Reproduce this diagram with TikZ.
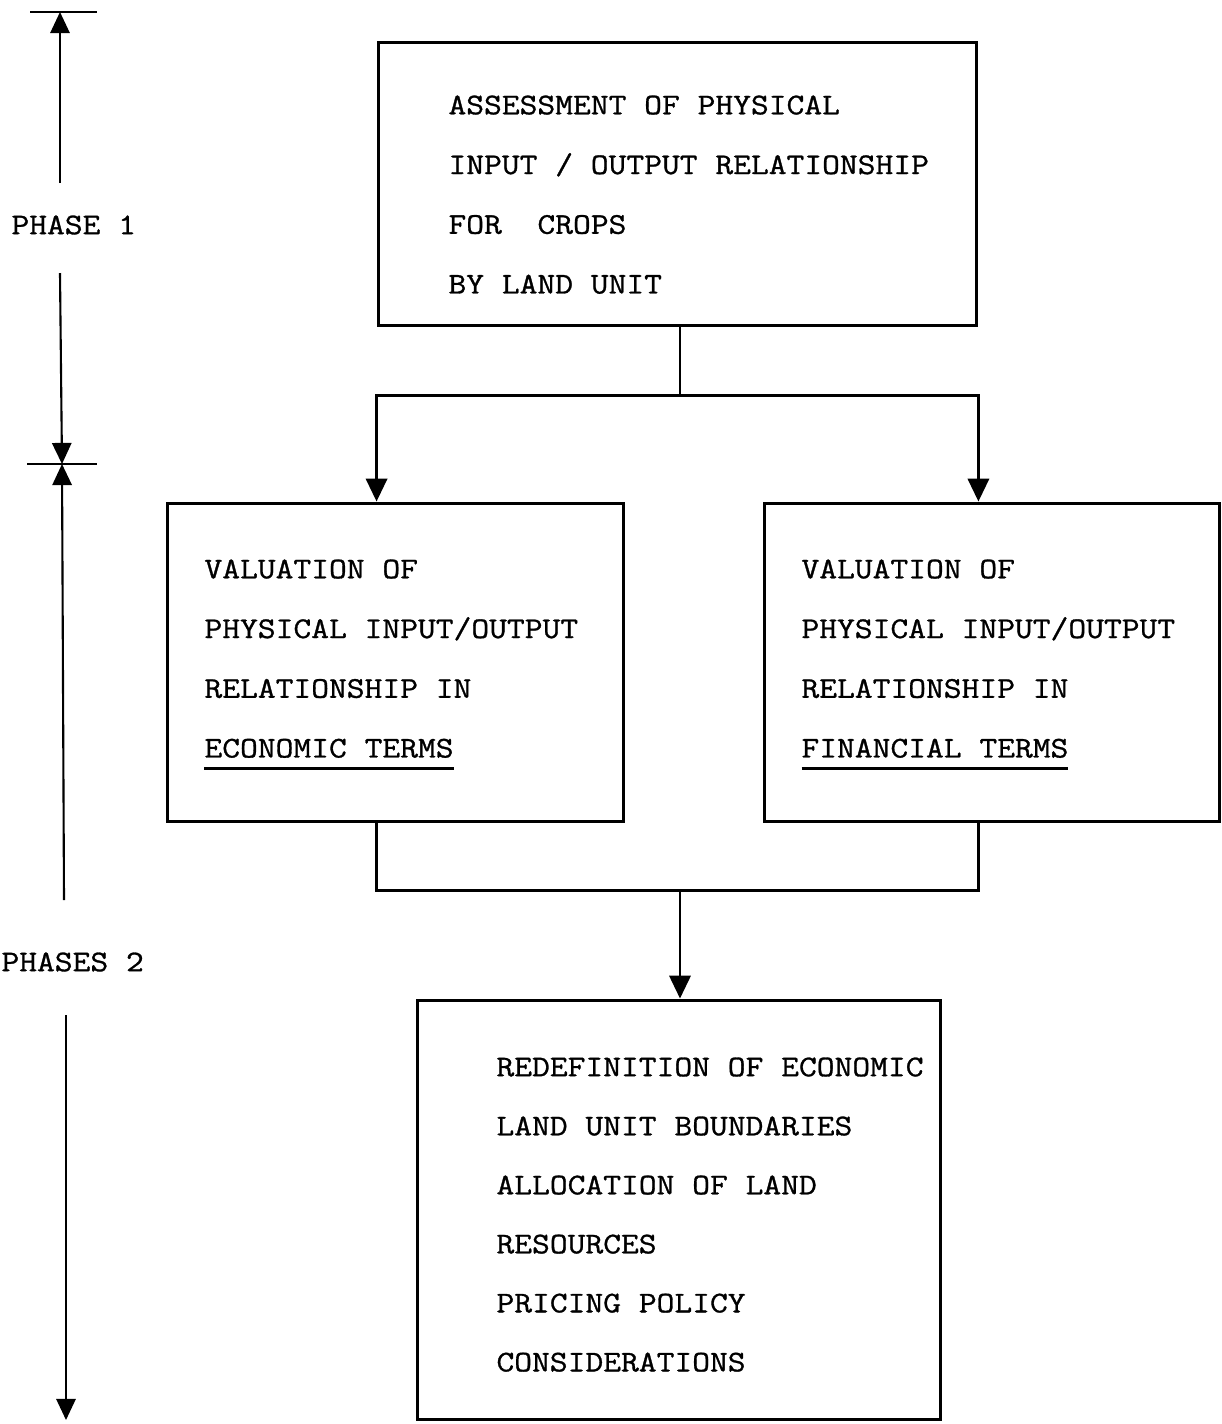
\documentclass[tikz,border=0pt]{standalone}
\usepackage{fontspec}
\newfontfamily\typefont{Latin Modern Mono}[FakeStretch=1.15, FakeBold=1]
\usetikzlibrary{arrows.meta}
\newcommand\lowline[1]{\setbox0\hbox{#1}\rlap{\copy0}\rule[-7pt]{\wd0}{1.5pt}}
\tikzset{
  box/.style={draw, line width=1.7pt, inner sep=0pt},
  boxtext/.style={anchor=north west, inner sep=0pt, align=left,
    font=\typefont\fontsize{17.1}{34}\selectfont},
  phasetext/.style={anchor=west, inner sep=0pt, font=\typefont\fontsize{17.1}{20}\selectfont},
  arr/.style={-{Triangle[width=12pt,length=13pt]}},
  phasearr/.style={line width=1.2pt, -{Triangle[width=11pt,length=12pt]}},
}
\begin{document}
\begin{tikzpicture}[x=0.02cm, y=-0.02cm, line width=1.7pt]
  \useasboundingbox (0,0) rectangle (1222,1424);

  % boxes
  \node[box, minimum width=11.98cm, minimum height=5.68cm] (assess) at (677.5,184) {};
  \node[box, minimum width=9.14cm, minimum height=6.38cm] (econ) at (395.5,662.5) {};
  \node[box, minimum width=9.12cm, minimum height=6.38cm] (fin) at (992,662.5) {};
  \node[box, minimum width=10.48cm, minimum height=8.4cm] (redef) at (679,1210) {};

  % texts
  \node[boxtext] (assesstxt) at (447,94)
    {ASSESSMENT OF PHYSICAL\\INPUT / OUTPUT RELATIONSHIP\\FOR\ \ CROPS\\BY LAND UNIT};
  \node[boxtext] (econtxt) at (203,558)
    {VALUATION OF\\PHYSICAL INPUT/OUTPUT\\RELATIONSHIP IN\\\lowline{ECONOMIC TERMS}};
  \node[boxtext] (fintxt) at (800,558)
    {VALUATION OF\\PHYSICAL INPUT/OUTPUT\\RELATIONSHIP IN\\\lowline{FINANCIAL TERMS}};
  \node[boxtext, font=\typefont\fontsize{17.1}{33.6}\selectfont] (redeftxt) at (495,1056)
    {REDEFINITION OF ECONOMIC\\LAND UNIT BOUNDARIES\\ALLOCATION OF LAND\\RESOURCES\\PRICING POLICY\\CONSIDERATIONS};

  % connectors
  \coordinate (fork) at (680,395);
  \coordinate (join) at (680,890);
  \draw (fork |- assess.south) -- (fork);
  \draw[arr] (fork) -| (assess.south west |- econ.north);
  \draw[arr] (fork) -| (assess.south east |- fin.north);
  \draw (assess.south west |- econ.south) |- (join) -| (assess.south east |- fin.south);
  \draw[arr] (join) -- (join |- redef.north);

  % phases
  \coordinate (ph1top) at (60,12);
  \coordinate (ph1lo) at (60,183);
  \coordinate (ph1hi) at (60,273);
  \coordinate (ph12) at (62,464);
  \coordinate (ph2lo) at (64,900);
  \coordinate (ph2hi) at (66,1015);
  \coordinate (ph2end) at (66,1420);
  \draw[line width=1.3pt] (ph1top) ++(-30,0) -- ++(67,0);
  \draw[line width=1.3pt] (ph12) ++(-35,0) -- ++(70,0);
  \draw[phasearr] (ph1lo) -- (ph1top);
  \draw[phasearr] (ph1hi) -- (ph12);
  \draw[phasearr] (ph2lo) -- (ph12);
  \draw[phasearr] (ph2hi) -- (ph2end);
  \node[phasetext] (ph1txt) at (10,225) {PHASE 1};
  \node[phasetext] (ph2txt) at (0,962) {PHASES 2};
\end{tikzpicture}
\end{document}
